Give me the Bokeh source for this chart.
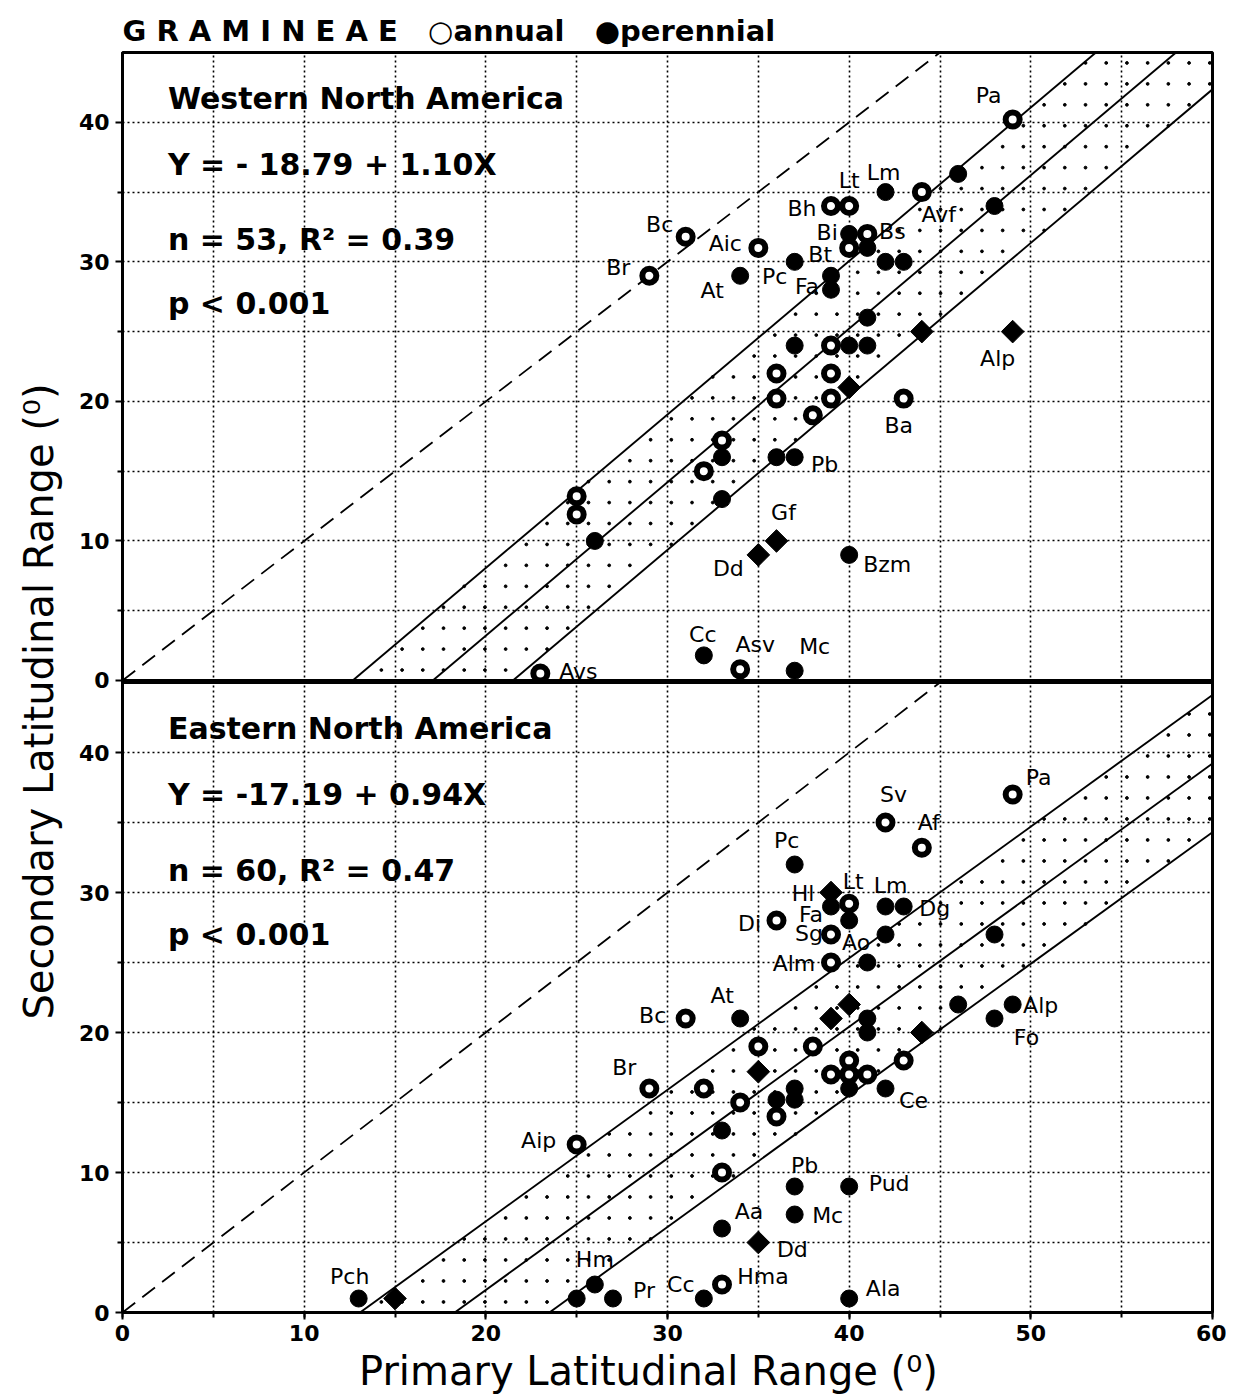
import numpy as np
from bokeh.plotting import figure
from bokeh.models import (ColumnDataSource, Range1d, SingleIntervalTicker, FixedTicker,
                          CustomJSTickFormatter)
from bokeh.core.properties import value
from bokeh.embed import file_html
from bokeh.resources import INLINE

FONT = "DejaVu Sans"

# ---------------- data: Western North America ----------------
west_x = [49, 42, 39, 40, 44, 46, 48, 31, 35, 29, 34, 37, 40, 41, 40, 41, 39, 39, 42, 43,
          41, 44, 37, 39, 40, 41, 36, 39, 40, 36, 39, 43, 38, 33, 33, 32, 36, 37, 33, 25,
          25, 26, 36, 35, 40, 32, 34, 37, 23, 49]
west_y = [40.2, 35, 34, 34, 35, 36.3, 34, 31.8, 31, 29, 29, 30, 32, 32, 31, 31, 29, 28, 30, 30,
          26, 25, 24, 24, 24, 24, 22, 22, 21, 20.2, 20.2, 20.2, 19, 17.2, 16, 15, 16, 16, 13, 13.2,
          11.9, 10, 10, 9, 9, 1.8, 0.8, 0.7, 0.5, 25]
west_kind = ["a", "p", "a", "a", "a", "p", "p", "a", "a", "a", "p", "p", "p", "a", "a", "p", "p", "p", "p", "p",
             "p", "d", "p", "a", "p", "p", "a", "a", "d", "a", "a", "a", "a", "a", "p", "a", "p", "p", "p", "a",
             "a", "p", "d", "d", "p", "p", "a", "p", "a", "d"]
west_names = ["Pa", "Lm", "Lt", "Bh", "Avf", "Bc", "Aic", "Br", "At", "Pc", "Bi", "Bs", "Bt", "Fa",
              "Alp", "Ba", "Pb", "Gf", "Dd", "Bzm", "Cc", "Asv", "Mc", "Avs"]
west_name_x = [49, 42, 40, 39, 44, 31, 35, 29, 34, 37, 40, 41, 40, 39, 49, 43, 37, 36, 35, 40, 32, 34, 37, 23]
west_name_y = [40.2, 35, 34, 34, 35, 31.8, 31, 29, 29, 30, 32, 32, 31, 29, 25, 20.2, 16, 10, 9, 9, 1.8, 0.8, 0.7, 0.5]
west_fit = (-18.79, 1.10)          # intercept, slope
west_band = 4.85
west_stats = ["Western  North  America", "Y = - 18.79 + 1.10X", "n = 53,  R² = 0.39", "p < 0.001"]

# ---------------- data: Eastern North America ----------------
east_x = [49, 42, 44, 37, 39, 40, 39, 40, 42, 43, 36, 39, 42, 39, 41, 48, 46, 49, 48, 44,
          43, 42, 31, 34, 40, 39, 41, 41, 35, 38, 35, 40, 39, 40, 41, 40, 29, 32, 34, 36,
          37, 37, 36, 33, 25, 33, 37, 40, 37, 33, 35, 26, 25, 27, 32, 33, 40, 13, 15]
east_y = [37, 35, 33.2, 32, 30, 29.2, 29, 28, 29, 29, 28, 27, 27, 25, 25, 27, 22, 22, 21, 20,
          18, 16, 21, 21, 22, 21, 21, 20, 19, 19, 17.2, 18, 17, 17, 17, 16, 16, 16, 15, 15.2,
          16, 15.2, 14, 13, 12, 10, 9, 9, 7, 6, 5, 2, 1, 1, 1, 2, 1, 1, 1]
east_kind = ["a", "a", "a", "p", "d", "a", "p", "p", "p", "p", "a", "a", "p", "a", "p", "p", "p", "p", "p", "d",
             "a", "p", "a", "p", "d", "d", "p", "p", "a", "a", "d", "a", "a", "a", "a", "p", "a", "a", "a", "p",
             "p", "p", "a", "p", "a", "a", "p", "p", "p", "p", "d", "p", "p", "p", "p", "a", "p", "p", "d"]
east_names = ["Pa", "Sv", "Af", "Pc", "Hl", "Lt", "Fa", "Lm", "Dg", "Di", "Sg", "Ao", "Alm", "Alp", "Fo",
              "Ce", "Bc", "At", "Br", "Aip", "Pb", "Pud", "Mc", "Aa", "Dd", "Hm", "Pr", "Cc", "Hma", "Ala", "Pch"]
east_name_x = [49, 42, 44, 37, 39, 40, 39, 42, 43, 36, 39, 40, 39, 49, 48, 42, 31, 34, 29, 25, 37, 40, 37, 33,
               35, 26, 27, 32, 33, 40, 13]
east_name_y = [37, 35, 33.2, 32, 30, 29.2, 29, 29, 29, 28, 27, 28, 25, 22, 21, 16, 21, 21, 16, 12, 9, 9, 7, 6,
               5, 2, 1, 1, 2, 1, 1]
east_fit = (-17.19, 0.94)
east_band = 4.9
east_stats = ["Eastern  North  America", "Y = -17.19 + 0.94X", "n = 60,  R² = 0.47", "p < 0.001"]

y_tick_values = [0, 10, 20, 30, 40]
y_minor_values = [5, 15, 25, 35]

# ---------------- layout constants ----------------
west_off = [(-24, -24), (-2, -20), (0, -26), (-29, 2), (17, 22), (-26, -12), (-33, -4), (-31, -8),
            (-28, 15), (-20, 15), (-22, -1), (25, -2), (-29, 7), (-24, 11), (-15, 27), (-5, 27),
            (30, 7), (7, -28), (-30, 14), (38, 10), (-1, -21), (15, -25), (20, -24), (38, -2)]
east_off = [(26, -17), (8, -28), (7, -25), (-8, -24), (-28, 1), (4, -22), (-20, 8), (5, -21), (31, 2),
            (-27, 3), (-22, -1), (7, 22), (-37, 1), (28, 1), (32, 19), (28, 12), (-33, -3), (-18, -23),
            (-25, -21), (-38, -4), (10, -21), (40, -3), (33, 1), (27, -17), (34, 7), (0, -25), (31, -8),
            (-23, -14), (41, -8), (34, -10), (-9, -22)]
stat_y = [41.7, 37.0, 31.6, 27.0]
stat_x = 2.5

PANEL = 45.0              # each panel spans 0..45
MAIN_END = 90.0           # main y range: bottom panel 0..45, top panel above it
TOP_ZERO = 45.143         # main-range position of the top panel's zero (small gap for the divider)
TOP_START = -TOP_ZERO * PANEL / (MAIN_END - TOP_ZERO)   # extra range so that top 45 == main 90


def to_main(t):
    return TOP_ZERO + t * (MAIN_END - TOP_ZERO) / PANEL


p = figure(width=1226, height=1396, x_range=Range1d(0, 60), y_range=Range1d(0, MAIN_END),
           output_backend="svg", toolbar_location=None,
           min_border_left=122, min_border_right=14, min_border_top=52, min_border_bottom=84)
p.extra_y_ranges = {"top": Range1d(TOP_START, PANEL)}

NB = "\u00a0"
p.title.text = "G R A M I N E A E" + NB * 3 + "○annual" + NB * 3 + "●perennial"
p.title.text_font = FONT
p.title.text_font_style = "bold"
p.title.text_font_size = "29px"
p.title.text_color = "black"
p.title.align = "left"
p.title.standoff = 10

p.outline_line_color = "black"
p.outline_line_width = 3
p.outline_line_alpha = 1

# grid
p.xgrid.ticker = SingleIntervalTicker(interval=5)
p.ygrid.ticker = FixedTicker(ticks=[v for v in range(0, 46, 5)] + [to_main(v) for v in range(5, 46, 5)])
for g in (p.xgrid, p.ygrid):
    g.grid_line_color = "black"
    g.grid_line_dash = "2 3"
    g.grid_line_width = 1.6
    g.grid_line_alpha = 1

# axes
p.xaxis.ticker = SingleIntervalTicker(interval=10, num_minor_ticks=2)
p.yaxis.ticker = FixedTicker(ticks=y_tick_values + [to_main(v) for v in y_tick_values],
                             minor_ticks=y_minor_values + [to_main(v) for v in y_minor_values])
p.yaxis.formatter = CustomJSTickFormatter(
    args=dict(split=45.07, ts=TOP_START, te=PANEL, me=MAIN_END),
    code="""
    if (tick <= split) { return Math.round(tick).toString(); }
    return Math.round(ts + tick / me * (te - ts)).toString();
    """)
for ax in (p.xaxis, p.yaxis):
    ax.axis_line_width = 3
    ax.major_tick_line_width = 2
    ax.minor_tick_line_width = 2
    ax.major_tick_out = 7
    ax.major_tick_in = 0
    ax.minor_tick_out = 5
    ax.minor_tick_in = 0
    ax.major_label_text_font = FONT
    ax.major_label_text_font_style = "bold"
    ax.major_label_text_font_size = "22px"
    ax.major_label_text_color = "black"
    ax.axis_label_text_font = FONT
    ax.axis_label_text_font_style = "normal"
    ax.axis_label_text_font_size = "40px"
    ax.axis_label_text_color = "black"
p.xaxis.axis_label = "Primary  Latitudinal  Range  (⁰)"
p.yaxis.axis_label = "Secondary  Latitudinal  Range  (⁰)"
p.xaxis.axis_label_standoff = 4
p.yaxis.axis_label_standoff = 14
p.xaxis.major_label_standoff = 5
p.yaxis.major_label_standoff = 6

# divider between the panels
p.line([0, 60], [0, 0], y_range_name="top", line_color="black", line_width=3)
p.line([0, 60], [PANEL, PANEL], line_color="black", line_width=3)


def band_dots(fit, band):
    a, b = fit
    xs, ys = [], []
    for gx in np.arange(0.57, 60, 1.14):
        for gy in np.arange(0.75, PANEL, 1.5):
            mid = a + b * gx
            if mid - band <= gy <= mid + band:
                xs.append(gx)
                ys.append(gy)
    return xs, ys


def clipped_line(a, b):
    x0 = max(0.0, -a / b)
    x1 = min(60.0, (PANEL - a) / b)
    return [x0, x1], [a + b * x0, a + b * x1]


def draw_panel(rng, xs, ys, kinds, names, nx, ny, offs, fit, band, stats):
    kw = dict(y_range_name=rng) if rng else {}
    dx, dy = band_dots(fit, band)
    p.scatter(dx, dy, size=2.8, color="black", marker="circle", **kw)

    lx, ly = clipped_line(0.0, 1.0)
    p.line(lx, ly, line_color="black", line_width=1.8, line_dash="16 9", **kw)
    a, b = fit
    for k in (-1, 0, 1):
        lx, ly = clipped_line(a + k * band, b)
        p.line(lx, ly, line_color="black", line_width=1.9, **kw)

    sel = lambda vals, kk: [v for v, k in zip(vals, kinds) if k == kk]
    p.scatter(sel(xs, "p"), sel(ys, "p"), size=17, marker="circle",
              fill_color="black", line_color="black", **kw)
    p.scatter(sel(xs, "d"), sel(ys, "d"), size=16, marker="square", angle=np.pi / 4,
              fill_color="black", line_color="black", **kw)
    p.scatter(sel(xs, "a"), sel(ys, "a"), size=14, marker="circle",
              fill_color="white", line_color="black", line_width=6, **kw)

    lsrc = ColumnDataSource(dict(x=nx, y=ny, t=names, ox=[o[0] for o in offs], oy=[o[1] for o in offs]))
    p.text(x="x", y="y", text="t", x_offset="ox", y_offset="oy", source=lsrc,
           text_font=value(FONT), text_font_size="22px", text_align="center", text_baseline="middle",
           text_color="black", **kw)

    ssrc = ColumnDataSource(dict(x=[stat_x] * len(stats), y=stat_y, t=stats))
    p.text(x="x", y="y", text="t", source=ssrc, text_font=value(FONT), text_font_style="bold",
           text_font_size="30px", text_align="left", text_baseline="middle", text_color="black", **kw)


draw_panel("top", west_x, west_y, west_kind, west_names, west_name_x, west_name_y,
           west_off, west_fit, west_band, west_stats)
draw_panel(None, east_x, east_y, east_kind, east_names, east_name_x, east_name_y,
           east_off, east_fit, east_band, east_stats)

open("out.html", "w").write(file_html(p, INLINE))
